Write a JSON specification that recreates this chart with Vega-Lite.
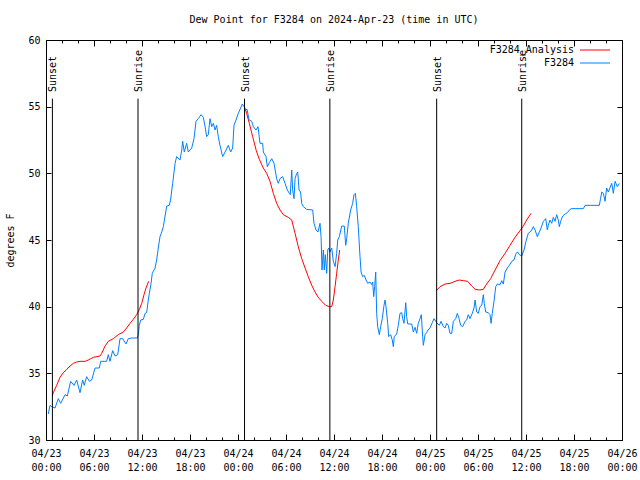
{
  "$schema": "https://vega.github.io/schema/vega-lite/v6.json",
  "width": 576,
  "height": 400,
  "autosize": {"type": "none"},
  "padding": {"left": 46, "top": 40, "right": 18, "bottom": 40},
  "background": "white",
  "title": {"text": "Dew Point for F3284 on 2024-Apr-23 (time in UTC)", "font": "DejaVu Sans Mono", "fontSize": 10, "fontWeight": "normal", "color": "black", "offset": 10, "anchor": "middle"},
  "config": {
    "view": {"stroke": "black", "strokeWidth": 1},
    "font": "DejaVu Sans Mono",
    "axis": {"domain": false, "grid": false, "tickColor": "black", "tickWidth": 1, "labelColor": "black", "labelFont": "DejaVu Sans Mono", "labelFontSize": 10, "titleFont": "DejaVu Sans Mono", "titleFontSize": 10, "titleFontWeight": "normal", "titleColor": "black"}
  },
  "datasets": {
    "sun": [
      {"t": "2024-04-23T00:48:00Z", "event": "Sunset"},
      {"t": "2024-04-23T11:30:00Z", "event": "Sunrise"},
      {"t": "2024-04-24T00:49:00Z", "event": "Sunset"},
      {"t": "2024-04-24T11:29:00Z", "event": "Sunrise"},
      {"t": "2024-04-25T00:50:00Z", "event": "Sunset"},
      {"t": "2024-04-25T11:28:00Z", "event": "Sunrise"}
    ],
    "ana": [
      {"t":"2024-04-23T00:47:00Z","v":33.3,"s":"F3284_Analysis","g":"a1"},
      {"t":"2024-04-23T00:55:00Z","v":33.55,"s":"F3284_Analysis","g":"a1"},
      {"t":"2024-04-23T01:20:00Z","v":34.1,"s":"F3284_Analysis","g":"a1"},
      {"t":"2024-04-23T01:45:00Z","v":34.7,"s":"F3284_Analysis","g":"a1"},
      {"t":"2024-04-23T02:10:00Z","v":35.05,"s":"F3284_Analysis","g":"a1"},
      {"t":"2024-04-23T02:35:00Z","v":35.3,"s":"F3284_Analysis","g":"a1"},
      {"t":"2024-04-23T03:00:00Z","v":35.55,"s":"F3284_Analysis","g":"a1"},
      {"t":"2024-04-23T03:25:00Z","v":35.75,"s":"F3284_Analysis","g":"a1"},
      {"t":"2024-04-23T03:50:00Z","v":35.85,"s":"F3284_Analysis","g":"a1"},
      {"t":"2024-04-23T04:15:00Z","v":35.9,"s":"F3284_Analysis","g":"a1"},
      {"t":"2024-04-23T04:53:00Z","v":35.9,"s":"F3284_Analysis","g":"a1"},
      {"t":"2024-04-23T05:17:00Z","v":36.0,"s":"F3284_Analysis","g":"a1"},
      {"t":"2024-04-23T05:55:00Z","v":36.2,"s":"F3284_Analysis","g":"a1"},
      {"t":"2024-04-23T06:45:00Z","v":36.3,"s":"F3284_Analysis","g":"a1"},
      {"t":"2024-04-23T06:58:00Z","v":36.5,"s":"F3284_Analysis","g":"a1"},
      {"t":"2024-04-23T07:23:00Z","v":37.05,"s":"F3284_Analysis","g":"a1"},
      {"t":"2024-04-23T07:47:00Z","v":37.4,"s":"F3284_Analysis","g":"a1"},
      {"t":"2024-04-23T08:25:00Z","v":37.6,"s":"F3284_Analysis","g":"a1"},
      {"t":"2024-04-23T09:02:00Z","v":37.9,"s":"F3284_Analysis","g":"a1"},
      {"t":"2024-04-23T09:40:00Z","v":38.1,"s":"F3284_Analysis","g":"a1"},
      {"t":"2024-04-23T10:05:00Z","v":38.4,"s":"F3284_Analysis","g":"a1"},
      {"t":"2024-04-23T10:30:00Z","v":38.75,"s":"F3284_Analysis","g":"a1"},
      {"t":"2024-04-23T10:55:00Z","v":39.05,"s":"F3284_Analysis","g":"a1"},
      {"t":"2024-04-23T11:20:00Z","v":39.4,"s":"F3284_Analysis","g":"a1"},
      {"t":"2024-04-23T11:38:00Z","v":39.75,"s":"F3284_Analysis","g":"a1"},
      {"t":"2024-04-23T11:58:00Z","v":40.25,"s":"F3284_Analysis","g":"a1"},
      {"t":"2024-04-23T12:15:00Z","v":40.9,"s":"F3284_Analysis","g":"a1"},
      {"t":"2024-04-23T12:30:00Z","v":41.4,"s":"F3284_Analysis","g":"a1"},
      {"t":"2024-04-23T12:50:00Z","v":41.9,"s":"F3284_Analysis","g":"a1"},
      {"t":"2024-04-24T00:47:00Z","v":55.0,"s":"F3284_Analysis","g":"a2"},
      {"t":"2024-04-24T01:05:00Z","v":54.5,"s":"F3284_Analysis","g":"a2"},
      {"t":"2024-04-24T01:25:00Z","v":53.75,"s":"F3284_Analysis","g":"a2"},
      {"t":"2024-04-24T01:50:00Z","v":52.75,"s":"F3284_Analysis","g":"a2"},
      {"t":"2024-04-24T02:17:00Z","v":51.7,"s":"F3284_Analysis","g":"a2"},
      {"t":"2024-04-24T02:40:00Z","v":51.05,"s":"F3284_Analysis","g":"a2"},
      {"t":"2024-04-24T03:10:00Z","v":50.4,"s":"F3284_Analysis","g":"a2"},
      {"t":"2024-04-24T03:35:00Z","v":50.0,"s":"F3284_Analysis","g":"a2"},
      {"t":"2024-04-24T04:00:00Z","v":49.4,"s":"F3284_Analysis","g":"a2"},
      {"t":"2024-04-24T04:25:00Z","v":48.5,"s":"F3284_Analysis","g":"a2"},
      {"t":"2024-04-24T04:50:00Z","v":47.75,"s":"F3284_Analysis","g":"a2"},
      {"t":"2024-04-24T05:15:00Z","v":47.25,"s":"F3284_Analysis","g":"a2"},
      {"t":"2024-04-24T05:40:00Z","v":46.9,"s":"F3284_Analysis","g":"a2"},
      {"t":"2024-04-24T06:17:00Z","v":46.7,"s":"F3284_Analysis","g":"a2"},
      {"t":"2024-04-24T06:43:00Z","v":46.5,"s":"F3284_Analysis","g":"a2"},
      {"t":"2024-04-24T07:08:00Z","v":45.5,"s":"F3284_Analysis","g":"a2"},
      {"t":"2024-04-24T07:32:00Z","v":44.5,"s":"F3284_Analysis","g":"a2"},
      {"t":"2024-04-24T07:58:00Z","v":43.6,"s":"F3284_Analysis","g":"a2"},
      {"t":"2024-04-24T08:23:00Z","v":42.9,"s":"F3284_Analysis","g":"a2"},
      {"t":"2024-04-24T08:47:00Z","v":42.25,"s":"F3284_Analysis","g":"a2"},
      {"t":"2024-04-24T09:13:00Z","v":41.6,"s":"F3284_Analysis","g":"a2"},
      {"t":"2024-04-24T09:38:00Z","v":41.1,"s":"F3284_Analysis","g":"a2"},
      {"t":"2024-04-24T10:02:00Z","v":40.7,"s":"F3284_Analysis","g":"a2"},
      {"t":"2024-04-24T10:28:00Z","v":40.4,"s":"F3284_Analysis","g":"a2"},
      {"t":"2024-04-24T10:58:00Z","v":40.1,"s":"F3284_Analysis","g":"a2"},
      {"t":"2024-04-24T11:25:00Z","v":40.0,"s":"F3284_Analysis","g":"a2"},
      {"t":"2024-04-24T11:43:00Z","v":40.0,"s":"F3284_Analysis","g":"a2"},
      {"t":"2024-04-24T11:55:00Z","v":40.5,"s":"F3284_Analysis","g":"a2"},
      {"t":"2024-04-24T12:08:00Z","v":41.5,"s":"F3284_Analysis","g":"a2"},
      {"t":"2024-04-24T12:20:00Z","v":42.5,"s":"F3284_Analysis","g":"a2"},
      {"t":"2024-04-24T12:32:00Z","v":43.5,"s":"F3284_Analysis","g":"a2"},
      {"t":"2024-04-24T12:43:00Z","v":44.25,"s":"F3284_Analysis","g":"a2"},
      {"t":"2024-04-25T00:48:00Z","v":41.2,"s":"F3284_Analysis","g":"a3"},
      {"t":"2024-04-25T01:15:00Z","v":41.5,"s":"F3284_Analysis","g":"a3"},
      {"t":"2024-04-25T01:53:00Z","v":41.7,"s":"F3284_Analysis","g":"a3"},
      {"t":"2024-04-25T02:30:00Z","v":41.75,"s":"F3284_Analysis","g":"a3"},
      {"t":"2024-04-25T03:08:00Z","v":41.9,"s":"F3284_Analysis","g":"a3"},
      {"t":"2024-04-25T03:40:00Z","v":42.0,"s":"F3284_Analysis","g":"a3"},
      {"t":"2024-04-25T04:10:00Z","v":41.95,"s":"F3284_Analysis","g":"a3"},
      {"t":"2024-04-25T04:43:00Z","v":41.9,"s":"F3284_Analysis","g":"a3"},
      {"t":"2024-04-25T05:13:00Z","v":41.55,"s":"F3284_Analysis","g":"a3"},
      {"t":"2024-04-25T05:38:00Z","v":41.3,"s":"F3284_Analysis","g":"a3"},
      {"t":"2024-04-25T06:10:00Z","v":41.25,"s":"F3284_Analysis","g":"a3"},
      {"t":"2024-04-25T06:40:00Z","v":41.3,"s":"F3284_Analysis","g":"a3"},
      {"t":"2024-04-25T07:05:00Z","v":41.7,"s":"F3284_Analysis","g":"a3"},
      {"t":"2024-04-25T07:35:00Z","v":42.1,"s":"F3284_Analysis","g":"a3"},
      {"t":"2024-04-25T08:08:00Z","v":42.75,"s":"F3284_Analysis","g":"a3"},
      {"t":"2024-04-25T08:45:00Z","v":43.45,"s":"F3284_Analysis","g":"a3"},
      {"t":"2024-04-25T09:23:00Z","v":44.0,"s":"F3284_Analysis","g":"a3"},
      {"t":"2024-04-25T10:00:00Z","v":44.6,"s":"F3284_Analysis","g":"a3"},
      {"t":"2024-04-25T10:38:00Z","v":45.2,"s":"F3284_Analysis","g":"a3"},
      {"t":"2024-04-25T11:15:00Z","v":45.7,"s":"F3284_Analysis","g":"a3"},
      {"t":"2024-04-25T11:40:00Z","v":46.05,"s":"F3284_Analysis","g":"a3"},
      {"t":"2024-04-25T12:05:00Z","v":46.5,"s":"F3284_Analysis","g":"a3"},
      {"t":"2024-04-25T12:38:00Z","v":47.0,"s":"F3284_Analysis","g":"a3"}
    ],
    "obs": [
      {"t":"2024-04-23T00:17:00Z","v":31.95,"s":"F3284"},
      {"t":"2024-04-23T00:30:00Z","v":32.6,"s":"F3284"},
      {"t":"2024-04-23T00:43:00Z","v":32.5,"s":"F3284"},
      {"t":"2024-04-23T01:08:00Z","v":32.4,"s":"F3284"},
      {"t":"2024-04-23T01:32:00Z","v":33.1,"s":"F3284"},
      {"t":"2024-04-23T01:50:00Z","v":32.75,"s":"F3284"},
      {"t":"2024-04-23T02:23:00Z","v":33.4,"s":"F3284"},
      {"t":"2024-04-23T02:40:00Z","v":33.3,"s":"F3284"},
      {"t":"2024-04-23T03:05:00Z","v":34.4,"s":"F3284"},
      {"t":"2024-04-23T03:30:00Z","v":34.1,"s":"F3284"},
      {"t":"2024-04-23T03:50:00Z","v":34.5,"s":"F3284"},
      {"t":"2024-04-23T04:15:00Z","v":33.55,"s":"F3284"},
      {"t":"2024-04-23T04:35:00Z","v":34.5,"s":"F3284"},
      {"t":"2024-04-23T04:47:00Z","v":34.1,"s":"F3284"},
      {"t":"2024-04-23T05:05:00Z","v":34.75,"s":"F3284"},
      {"t":"2024-04-23T05:25:00Z","v":34.4,"s":"F3284"},
      {"t":"2024-04-23T05:43:00Z","v":34.5,"s":"F3284"},
      {"t":"2024-04-23T06:08:00Z","v":35.4,"s":"F3284"},
      {"t":"2024-04-23T06:40:00Z","v":35.4,"s":"F3284"},
      {"t":"2024-04-23T06:50:00Z","v":35.9,"s":"F3284"},
      {"t":"2024-04-23T07:35:00Z","v":35.9,"s":"F3284"},
      {"t":"2024-04-23T07:47:00Z","v":36.4,"s":"F3284"},
      {"t":"2024-04-23T08:00:00Z","v":35.9,"s":"F3284"},
      {"t":"2024-04-23T08:20:00Z","v":36.7,"s":"F3284"},
      {"t":"2024-04-23T08:38:00Z","v":36.3,"s":"F3284"},
      {"t":"2024-04-23T08:58:00Z","v":36.4,"s":"F3284"},
      {"t":"2024-04-23T09:15:00Z","v":37.6,"s":"F3284"},
      {"t":"2024-04-23T09:35:00Z","v":37.6,"s":"F3284"},
      {"t":"2024-04-23T10:00:00Z","v":37.2,"s":"F3284"},
      {"t":"2024-04-23T10:17:00Z","v":37.6,"s":"F3284"},
      {"t":"2024-04-23T10:43:00Z","v":37.65,"s":"F3284"},
      {"t":"2024-04-23T11:25:00Z","v":37.65,"s":"F3284"},
      {"t":"2024-04-23T11:32:00Z","v":37.9,"s":"F3284"},
      {"t":"2024-04-23T11:40:00Z","v":38.6,"s":"F3284"},
      {"t":"2024-04-23T11:50:00Z","v":39.0,"s":"F3284"},
      {"t":"2024-04-23T12:10:00Z","v":39.05,"s":"F3284"},
      {"t":"2024-04-23T12:23:00Z","v":39.5,"s":"F3284"},
      {"t":"2024-04-23T12:35:00Z","v":39.55,"s":"F3284"},
      {"t":"2024-04-23T12:47:00Z","v":40.5,"s":"F3284"},
      {"t":"2024-04-23T12:55:00Z","v":41.0,"s":"F3284"},
      {"t":"2024-04-23T13:08:00Z","v":41.75,"s":"F3284"},
      {"t":"2024-04-23T13:17:00Z","v":42.5,"s":"F3284"},
      {"t":"2024-04-23T13:38:00Z","v":42.9,"s":"F3284"},
      {"t":"2024-04-23T13:50:00Z","v":43.5,"s":"F3284"},
      {"t":"2024-04-23T14:02:00Z","v":44.4,"s":"F3284"},
      {"t":"2024-04-23T14:15:00Z","v":45.25,"s":"F3284"},
      {"t":"2024-04-23T14:28:00Z","v":45.6,"s":"F3284"},
      {"t":"2024-04-23T14:40:00Z","v":46.0,"s":"F3284"},
      {"t":"2024-04-23T14:58:00Z","v":47.1,"s":"F3284"},
      {"t":"2024-04-23T15:05:00Z","v":47.55,"s":"F3284"},
      {"t":"2024-04-23T15:25:00Z","v":47.6,"s":"F3284"},
      {"t":"2024-04-23T15:34:00Z","v":48.0,"s":"F3284"},
      {"t":"2024-04-23T15:50:00Z","v":49.25,"s":"F3284"},
      {"t":"2024-04-23T16:08:00Z","v":50.75,"s":"F3284"},
      {"t":"2024-04-23T16:20:00Z","v":51.25,"s":"F3284"},
      {"t":"2024-04-23T16:45:00Z","v":51.0,"s":"F3284"},
      {"t":"2024-04-23T16:58:00Z","v":51.75,"s":"F3284"},
      {"t":"2024-04-23T17:05:00Z","v":52.4,"s":"F3284"},
      {"t":"2024-04-23T17:17:00Z","v":51.6,"s":"F3284"},
      {"t":"2024-04-23T17:35:00Z","v":52.25,"s":"F3284"},
      {"t":"2024-04-23T17:47:00Z","v":51.6,"s":"F3284"},
      {"t":"2024-04-23T18:13:00Z","v":51.9,"s":"F3284"},
      {"t":"2024-04-23T18:30:00Z","v":52.6,"s":"F3284"},
      {"t":"2024-04-23T18:45:00Z","v":53.9,"s":"F3284"},
      {"t":"2024-04-23T19:02:00Z","v":54.1,"s":"F3284"},
      {"t":"2024-04-23T19:23:00Z","v":54.4,"s":"F3284"},
      {"t":"2024-04-23T19:40:00Z","v":54.2,"s":"F3284"},
      {"t":"2024-04-23T19:53:00Z","v":53.5,"s":"F3284"},
      {"t":"2024-04-23T20:05:00Z","v":52.75,"s":"F3284"},
      {"t":"2024-04-23T20:17:00Z","v":52.9,"s":"F3284"},
      {"t":"2024-04-23T20:30:00Z","v":54.1,"s":"F3284"},
      {"t":"2024-04-23T20:43:00Z","v":53.5,"s":"F3284"},
      {"t":"2024-04-23T20:55:00Z","v":53.75,"s":"F3284"},
      {"t":"2024-04-23T21:08:00Z","v":53.25,"s":"F3284"},
      {"t":"2024-04-23T21:20:00Z","v":53.6,"s":"F3284"},
      {"t":"2024-04-23T21:32:00Z","v":52.75,"s":"F3284"},
      {"t":"2024-04-23T21:45:00Z","v":52.1,"s":"F3284"},
      {"t":"2024-04-23T22:05:00Z","v":51.25,"s":"F3284"},
      {"t":"2024-04-23T22:23:00Z","v":51.6,"s":"F3284"},
      {"t":"2024-04-23T22:47:00Z","v":52.1,"s":"F3284"},
      {"t":"2024-04-23T23:05:00Z","v":51.6,"s":"F3284"},
      {"t":"2024-04-23T23:20:00Z","v":51.9,"s":"F3284"},
      {"t":"2024-04-23T23:30:00Z","v":53.6,"s":"F3284"},
      {"t":"2024-04-23T23:45:00Z","v":54.0,"s":"F3284"},
      {"t":"2024-04-24T00:02:00Z","v":54.5,"s":"F3284"},
      {"t":"2024-04-24T00:20:00Z","v":54.9,"s":"F3284"},
      {"t":"2024-04-24T00:32:00Z","v":55.2,"s":"F3284"},
      {"t":"2024-04-24T00:45:00Z","v":55.0,"s":"F3284"},
      {"t":"2024-04-24T00:58:00Z","v":54.75,"s":"F3284"},
      {"t":"2024-04-24T01:08:00Z","v":54.8,"s":"F3284"},
      {"t":"2024-04-24T01:23:00Z","v":54.0,"s":"F3284"},
      {"t":"2024-04-24T01:43:00Z","v":53.9,"s":"F3284"},
      {"t":"2024-04-24T01:55:00Z","v":53.5,"s":"F3284"},
      {"t":"2024-04-24T02:15:00Z","v":53.25,"s":"F3284"},
      {"t":"2024-04-24T02:30:00Z","v":53.5,"s":"F3284"},
      {"t":"2024-04-24T02:45:00Z","v":52.25,"s":"F3284"},
      {"t":"2024-04-24T03:05:00Z","v":52.25,"s":"F3284"},
      {"t":"2024-04-24T03:10:00Z","v":51.6,"s":"F3284"},
      {"t":"2024-04-24T03:30:00Z","v":51.25,"s":"F3284"},
      {"t":"2024-04-24T03:40:00Z","v":50.5,"s":"F3284"},
      {"t":"2024-04-24T03:55:00Z","v":50.8,"s":"F3284"},
      {"t":"2024-04-24T04:13:00Z","v":51.1,"s":"F3284"},
      {"t":"2024-04-24T04:30:00Z","v":50.75,"s":"F3284"},
      {"t":"2024-04-24T04:50:00Z","v":49.6,"s":"F3284"},
      {"t":"2024-04-24T05:02:00Z","v":49.25,"s":"F3284"},
      {"t":"2024-04-24T05:15:00Z","v":49.6,"s":"F3284"},
      {"t":"2024-04-24T05:35:00Z","v":49.75,"s":"F3284"},
      {"t":"2024-04-24T05:53:00Z","v":49.25,"s":"F3284"},
      {"t":"2024-04-24T06:10:00Z","v":48.75,"s":"F3284"},
      {"t":"2024-04-24T06:25:00Z","v":48.5,"s":"F3284"},
      {"t":"2024-04-24T06:32:00Z","v":48.4,"s":"F3284"},
      {"t":"2024-04-24T06:43:00Z","v":50.25,"s":"F3284"},
      {"t":"2024-04-24T06:50:00Z","v":48.75,"s":"F3284"},
      {"t":"2024-04-24T07:00:00Z","v":48.1,"s":"F3284"},
      {"t":"2024-04-24T07:08:00Z","v":49.6,"s":"F3284"},
      {"t":"2024-04-24T07:20:00Z","v":50.0,"s":"F3284"},
      {"t":"2024-04-24T07:28:00Z","v":50.1,"s":"F3284"},
      {"t":"2024-04-24T07:38:00Z","v":48.75,"s":"F3284"},
      {"t":"2024-04-24T07:49:00Z","v":48.6,"s":"F3284"},
      {"t":"2024-04-24T07:58:00Z","v":47.75,"s":"F3284"},
      {"t":"2024-04-24T08:10:00Z","v":47.5,"s":"F3284"},
      {"t":"2024-04-24T08:35:00Z","v":47.3,"s":"F3284"},
      {"t":"2024-04-24T09:20:00Z","v":47.25,"s":"F3284"},
      {"t":"2024-04-24T09:30:00Z","v":46.25,"s":"F3284"},
      {"t":"2024-04-24T09:45:00Z","v":45.75,"s":"F3284"},
      {"t":"2024-04-24T10:00:00Z","v":45.6,"s":"F3284"},
      {"t":"2024-04-24T10:15:00Z","v":46.25,"s":"F3284"},
      {"t":"2024-04-24T10:23:00Z","v":45.25,"s":"F3284"},
      {"t":"2024-04-24T10:30:00Z","v":42.75,"s":"F3284"},
      {"t":"2024-04-24T10:40:00Z","v":44.25,"s":"F3284"},
      {"t":"2024-04-24T10:47:00Z","v":42.75,"s":"F3284"},
      {"t":"2024-04-24T10:55:00Z","v":43.9,"s":"F3284"},
      {"t":"2024-04-24T11:05:00Z","v":42.5,"s":"F3284"},
      {"t":"2024-04-24T11:13:00Z","v":44.25,"s":"F3284"},
      {"t":"2024-04-24T11:20:00Z","v":44.4,"s":"F3284"},
      {"t":"2024-04-24T11:30:00Z","v":44.1,"s":"F3284"},
      {"t":"2024-04-24T11:43:00Z","v":44.4,"s":"F3284"},
      {"t":"2024-04-24T11:55:00Z","v":43.4,"s":"F3284"},
      {"t":"2024-04-24T12:08:00Z","v":43.0,"s":"F3284"},
      {"t":"2024-04-24T12:20:00Z","v":44.0,"s":"F3284"},
      {"t":"2024-04-24T12:28:00Z","v":45.0,"s":"F3284"},
      {"t":"2024-04-24T12:40:00Z","v":45.25,"s":"F3284"},
      {"t":"2024-04-24T12:58:00Z","v":46.05,"s":"F3284"},
      {"t":"2024-04-24T13:17:00Z","v":46.05,"s":"F3284"},
      {"t":"2024-04-24T13:28:00Z","v":44.6,"s":"F3284"},
      {"t":"2024-04-24T13:35:00Z","v":45.1,"s":"F3284"},
      {"t":"2024-04-24T13:47:00Z","v":46.25,"s":"F3284"},
      {"t":"2024-04-24T14:05:00Z","v":47.25,"s":"F3284"},
      {"t":"2024-04-24T14:20:00Z","v":47.75,"s":"F3284"},
      {"t":"2024-04-24T14:30:00Z","v":48.4,"s":"F3284"},
      {"t":"2024-04-24T14:40:00Z","v":48.5,"s":"F3284"},
      {"t":"2024-04-24T14:50:00Z","v":47.5,"s":"F3284"},
      {"t":"2024-04-24T15:02:00Z","v":46.0,"s":"F3284"},
      {"t":"2024-04-24T15:15:00Z","v":43.75,"s":"F3284"},
      {"t":"2024-04-24T15:23:00Z","v":42.6,"s":"F3284"},
      {"t":"2024-04-24T15:35:00Z","v":42.25,"s":"F3284"},
      {"t":"2024-04-24T15:47:00Z","v":42.35,"s":"F3284"},
      {"t":"2024-04-24T16:00:00Z","v":42.0,"s":"F3284"},
      {"t":"2024-04-24T16:13:00Z","v":41.75,"s":"F3284"},
      {"t":"2024-04-24T16:30:00Z","v":41.85,"s":"F3284"},
      {"t":"2024-04-24T16:43:00Z","v":41.65,"s":"F3284"},
      {"t":"2024-04-24T16:50:00Z","v":41.85,"s":"F3284"},
      {"t":"2024-04-24T16:58:00Z","v":40.75,"s":"F3284"},
      {"t":"2024-04-24T17:05:00Z","v":41.5,"s":"F3284"},
      {"t":"2024-04-24T17:13:00Z","v":42.6,"s":"F3284"},
      {"t":"2024-04-24T17:20:00Z","v":39.5,"s":"F3284"},
      {"t":"2024-04-24T17:28:00Z","v":38.5,"s":"F3284"},
      {"t":"2024-04-24T17:40:00Z","v":37.9,"s":"F3284"},
      {"t":"2024-04-24T17:50:00Z","v":38.5,"s":"F3284"},
      {"t":"2024-04-24T18:02:00Z","v":39.1,"s":"F3284"},
      {"t":"2024-04-24T18:15:00Z","v":40.1,"s":"F3284"},
      {"t":"2024-04-24T18:23:00Z","v":40.5,"s":"F3284"},
      {"t":"2024-04-24T18:30:00Z","v":40.0,"s":"F3284"},
      {"t":"2024-04-24T18:43:00Z","v":38.75,"s":"F3284"},
      {"t":"2024-04-24T18:50:00Z","v":37.75,"s":"F3284"},
      {"t":"2024-04-24T19:05:00Z","v":37.9,"s":"F3284"},
      {"t":"2024-04-24T19:17:00Z","v":37.5,"s":"F3284"},
      {"t":"2024-04-24T19:25:00Z","v":37.0,"s":"F3284"},
      {"t":"2024-04-24T19:32:00Z","v":37.75,"s":"F3284"},
      {"t":"2024-04-24T19:50:00Z","v":37.95,"s":"F3284"},
      {"t":"2024-04-24T20:02:00Z","v":38.6,"s":"F3284"},
      {"t":"2024-04-24T20:15:00Z","v":39.5,"s":"F3284"},
      {"t":"2024-04-24T20:28:00Z","v":39.55,"s":"F3284"},
      {"t":"2024-04-24T20:35:00Z","v":39.1,"s":"F3284"},
      {"t":"2024-04-24T20:45:00Z","v":38.75,"s":"F3284"},
      {"t":"2024-04-24T20:58:00Z","v":40.3,"s":"F3284"},
      {"t":"2024-04-24T21:05:00Z","v":39.25,"s":"F3284"},
      {"t":"2024-04-24T21:13:00Z","v":38.7,"s":"F3284"},
      {"t":"2024-04-24T21:43:00Z","v":38.7,"s":"F3284"},
      {"t":"2024-04-24T21:55:00Z","v":38.1,"s":"F3284"},
      {"t":"2024-04-24T22:08:00Z","v":38.45,"s":"F3284"},
      {"t":"2024-04-24T22:20:00Z","v":38.0,"s":"F3284"},
      {"t":"2024-04-24T22:32:00Z","v":38.75,"s":"F3284"},
      {"t":"2024-04-24T22:45:00Z","v":39.1,"s":"F3284"},
      {"t":"2024-04-24T22:55:00Z","v":39.4,"s":"F3284"},
      {"t":"2024-04-24T23:05:00Z","v":37.75,"s":"F3284"},
      {"t":"2024-04-24T23:10:00Z","v":37.1,"s":"F3284"},
      {"t":"2024-04-24T23:23:00Z","v":37.9,"s":"F3284"},
      {"t":"2024-04-24T23:35:00Z","v":38.05,"s":"F3284"},
      {"t":"2024-04-24T23:45:00Z","v":38.25,"s":"F3284"},
      {"t":"2024-04-25T00:00:00Z","v":38.4,"s":"F3284"},
      {"t":"2024-04-25T00:17:00Z","v":38.8,"s":"F3284"},
      {"t":"2024-04-25T00:30:00Z","v":39.1,"s":"F3284"},
      {"t":"2024-04-25T00:50:00Z","v":38.8,"s":"F3284"},
      {"t":"2024-04-25T01:10:00Z","v":38.6,"s":"F3284"},
      {"t":"2024-04-25T01:23:00Z","v":38.9,"s":"F3284"},
      {"t":"2024-04-25T01:40:00Z","v":38.5,"s":"F3284"},
      {"t":"2024-04-25T01:53:00Z","v":38.4,"s":"F3284"},
      {"t":"2024-04-25T02:05:00Z","v":38.75,"s":"F3284"},
      {"t":"2024-04-25T02:17:00Z","v":38.6,"s":"F3284"},
      {"t":"2024-04-25T02:30:00Z","v":38.0,"s":"F3284"},
      {"t":"2024-04-25T02:43:00Z","v":38.0,"s":"F3284"},
      {"t":"2024-04-25T02:55:00Z","v":38.9,"s":"F3284"},
      {"t":"2024-04-25T03:13:00Z","v":39.1,"s":"F3284"},
      {"t":"2024-04-25T03:25:00Z","v":39.5,"s":"F3284"},
      {"t":"2024-04-25T03:38:00Z","v":39.1,"s":"F3284"},
      {"t":"2024-04-25T03:50:00Z","v":38.6,"s":"F3284"},
      {"t":"2024-04-25T04:05:00Z","v":38.5,"s":"F3284"},
      {"t":"2024-04-25T04:23:00Z","v":38.9,"s":"F3284"},
      {"t":"2024-04-25T04:35:00Z","v":39.0,"s":"F3284"},
      {"t":"2024-04-25T04:47:00Z","v":39.4,"s":"F3284"},
      {"t":"2024-04-25T05:00:00Z","v":39.1,"s":"F3284"},
      {"t":"2024-04-25T05:17:00Z","v":39.5,"s":"F3284"},
      {"t":"2024-04-25T05:30:00Z","v":39.9,"s":"F3284"},
      {"t":"2024-04-25T05:38:00Z","v":40.5,"s":"F3284"},
      {"t":"2024-04-25T05:50:00Z","v":39.6,"s":"F3284"},
      {"t":"2024-04-25T06:02:00Z","v":39.5,"s":"F3284"},
      {"t":"2024-04-25T06:15:00Z","v":40.0,"s":"F3284"},
      {"t":"2024-04-25T06:28:00Z","v":40.1,"s":"F3284"},
      {"t":"2024-04-25T06:40:00Z","v":40.9,"s":"F3284"},
      {"t":"2024-04-25T06:47:00Z","v":40.25,"s":"F3284"},
      {"t":"2024-04-25T06:58:00Z","v":39.6,"s":"F3284"},
      {"t":"2024-04-25T07:17:00Z","v":39.55,"s":"F3284"},
      {"t":"2024-04-25T07:30:00Z","v":39.4,"s":"F3284"},
      {"t":"2024-04-25T07:38:00Z","v":38.75,"s":"F3284"},
      {"t":"2024-04-25T07:47:00Z","v":39.5,"s":"F3284"},
      {"t":"2024-04-25T08:00:00Z","v":40.4,"s":"F3284"},
      {"t":"2024-04-25T08:13:00Z","v":41.5,"s":"F3284"},
      {"t":"2024-04-25T08:25:00Z","v":41.7,"s":"F3284"},
      {"t":"2024-04-25T08:45:00Z","v":41.65,"s":"F3284"},
      {"t":"2024-04-25T08:58:00Z","v":41.95,"s":"F3284"},
      {"t":"2024-04-25T09:10:00Z","v":41.7,"s":"F3284"},
      {"t":"2024-04-25T09:23:00Z","v":42.6,"s":"F3284"},
      {"t":"2024-04-25T09:40:00Z","v":42.9,"s":"F3284"},
      {"t":"2024-04-25T09:55:00Z","v":43.1,"s":"F3284"},
      {"t":"2024-04-25T10:13:00Z","v":43.4,"s":"F3284"},
      {"t":"2024-04-25T10:30:00Z","v":43.5,"s":"F3284"},
      {"t":"2024-04-25T10:45:00Z","v":44.0,"s":"F3284"},
      {"t":"2024-04-25T10:58:00Z","v":44.1,"s":"F3284"},
      {"t":"2024-04-25T11:10:00Z","v":43.9,"s":"F3284"},
      {"t":"2024-04-25T11:28:00Z","v":43.8,"s":"F3284"},
      {"t":"2024-04-25T11:45:00Z","v":44.25,"s":"F3284"},
      {"t":"2024-04-25T12:00:00Z","v":44.9,"s":"F3284"},
      {"t":"2024-04-25T12:17:00Z","v":45.5,"s":"F3284"},
      {"t":"2024-04-25T12:30:00Z","v":45.6,"s":"F3284"},
      {"t":"2024-04-25T12:43:00Z","v":45.75,"s":"F3284"},
      {"t":"2024-04-25T12:55:00Z","v":46.0,"s":"F3284"},
      {"t":"2024-04-25T13:08:00Z","v":45.75,"s":"F3284"},
      {"t":"2024-04-25T13:25:00Z","v":45.25,"s":"F3284"},
      {"t":"2024-04-25T13:40:00Z","v":45.6,"s":"F3284"},
      {"t":"2024-04-25T13:53:00Z","v":45.9,"s":"F3284"},
      {"t":"2024-04-25T14:10:00Z","v":46.4,"s":"F3284"},
      {"t":"2024-04-25T14:28:00Z","v":46.6,"s":"F3284"},
      {"t":"2024-04-25T14:40:00Z","v":45.75,"s":"F3284"},
      {"t":"2024-04-25T14:47:00Z","v":46.1,"s":"F3284"},
      {"t":"2024-04-25T15:00:00Z","v":46.5,"s":"F3284"},
      {"t":"2024-04-25T15:13:00Z","v":46.25,"s":"F3284"},
      {"t":"2024-04-25T15:25:00Z","v":46.7,"s":"F3284"},
      {"t":"2024-04-25T15:38:00Z","v":46.4,"s":"F3284"},
      {"t":"2024-04-25T15:50:00Z","v":46.9,"s":"F3284"},
      {"t":"2024-04-25T16:02:00Z","v":46.5,"s":"F3284"},
      {"t":"2024-04-25T16:10:00Z","v":46.0,"s":"F3284"},
      {"t":"2024-04-25T16:20:00Z","v":46.4,"s":"F3284"},
      {"t":"2024-04-25T16:35:00Z","v":46.8,"s":"F3284"},
      {"t":"2024-04-25T16:53:00Z","v":46.95,"s":"F3284"},
      {"t":"2024-04-25T17:10:00Z","v":47.05,"s":"F3284"},
      {"t":"2024-04-25T17:30:00Z","v":47.3,"s":"F3284"},
      {"t":"2024-04-25T17:43:00Z","v":47.35,"s":"F3284"},
      {"t":"2024-04-25T19:10:00Z","v":47.35,"s":"F3284"},
      {"t":"2024-04-25T19:23:00Z","v":47.6,"s":"F3284"},
      {"t":"2024-04-25T21:10:00Z","v":47.6,"s":"F3284"},
      {"t":"2024-04-25T21:19:00Z","v":48.1,"s":"F3284"},
      {"t":"2024-04-25T21:28:00Z","v":48.6,"s":"F3284"},
      {"t":"2024-04-25T21:40:00Z","v":48.5,"s":"F3284"},
      {"t":"2024-04-25T21:53:00Z","v":47.9,"s":"F3284"},
      {"t":"2024-04-25T22:05:00Z","v":48.9,"s":"F3284"},
      {"t":"2024-04-25T22:17:00Z","v":48.6,"s":"F3284"},
      {"t":"2024-04-25T22:43:00Z","v":49.25,"s":"F3284"},
      {"t":"2024-04-25T22:55:00Z","v":48.5,"s":"F3284"},
      {"t":"2024-04-25T23:08:00Z","v":49.4,"s":"F3284"},
      {"t":"2024-04-25T23:25:00Z","v":49.0,"s":"F3284"},
      {"t":"2024-04-25T23:40:00Z","v":49.25,"s":"F3284"}
    ]
  },
  "layer": [
    {
      "data": {"name": "ana"},
      "mark": {"type": "line", "strokeWidth": 1},
      "encoding": {
        "x": {"field": "t", "type": "temporal",
          "scale": {"domain": [1713830400000, 1714089600000]},
          "axis": {"orient": "bottom", "title": null, "tickSize": -6,
            "values": [1713830400000, 1713852000000, 1713873600000, 1713895200000, 1713916800000, 1713938400000, 1713960000000, 1713981600000, 1714003200000, 1714024800000, 1714046400000, 1714068000000, 1714089600000],
            "labelExpr": "[utcFormat(datum.value, '%m/%d'), utcFormat(datum.value, '%H:%M')]",
            "labelOverlap": false, "labelBound": false, "labelFlush": false, "labelPadding": 14, "labelLineHeight": 14}},
        "y": {"field": "v", "type": "quantitative",
          "scale": {"domain": [30, 60], "nice": false, "zero": false},
          "axis": {"orient": "left", "title": "degrees F", "values": [30, 35, 40, 45, 50, 55, 60], "tickSize": -5, "labelPadding": 11, "titlePadding": 12}},
        "color": {"field": "s", "type": "nominal",
          "scale": {"domain": ["F3284_Analysis", "F3284"], "range": ["#ff0000", "#0080ff"]},
          "legend": {"orient": "none", "legendX": 544, "legendY": 5, "title": null, "padding": 0,
            "symbolType": "M-5,0H5", "symbolSize": 36, "symbolStrokeWidth": 1,
            "labelAlign": "right", "labelOffset": -26, "labelFont": "DejaVu Sans Mono", "labelFontSize": 10, "labelColor": "black", "rowPadding": 3, "labelLimit": 300}},
        "detail": {"field": "g"}
      }
    },
    {
      "data": {"name": "obs"},
      "mark": {"type": "line", "strokeWidth": 1},
      "encoding": {
        "x": {"field": "t", "type": "temporal",
          "axis": {"orient": "bottom", "title": null, "labels": false, "tickSize": -3,
            "values": [1713830400000, 1713837600000, 1713844800000, 1713852000000, 1713859200000, 1713866400000, 1713873600000, 1713880800000, 1713888000000, 1713895200000, 1713902400000, 1713909600000, 1713916800000, 1713924000000, 1713931200000, 1713938400000, 1713945600000, 1713952800000, 1713960000000, 1713967200000, 1713974400000, 1713981600000, 1713988800000, 1713996000000, 1714003200000, 1714010400000, 1714017600000, 1714024800000, 1714032000000, 1714039200000, 1714046400000, 1714053600000, 1714060800000, 1714068000000, 1714075200000, 1714082400000, 1714089600000]}},
        "y": {"field": "v", "type": "quantitative",
          "axis": {"orient": "right", "title": null, "labels": false, "values": [30, 35, 40, 45, 50, 55, 60], "tickSize": -5}},
        "color": {"field": "s", "type": "nominal"}
      }
    },
    {
      "data": {"name": "sun"},
      "mark": {"type": "rule", "color": "black", "strokeWidth": 1},
      "encoding": {
        "x": {"field": "t", "type": "temporal",
          "axis": {"orient": "top", "title": null, "labels": false, "tickSize": -6,
            "values": [1713830400000, 1713852000000, 1713873600000, 1713895200000, 1713916800000, 1713938400000, 1713960000000, 1713981600000, 1714003200000, 1714024800000, 1714046400000, 1714068000000, 1714089600000]}},
        "y": {"datum": 55.6, "axis": null},
        "y2": {"datum": 30}
      }
    },
    {
      "data": {"name": "sun"},
      "mark": {"type": "text", "angle": 270, "align": "left", "baseline": "middle", "font": "DejaVu Sans Mono", "fontSize": 10, "color": "black", "dy": 1},
      "encoding": {
        "x": {"field": "t", "type": "temporal",
          "axis": {"orient": "top", "title": null, "labels": false, "tickSize": -3,
            "values": [1713830400000, 1713837600000, 1713844800000, 1713852000000, 1713859200000, 1713866400000, 1713873600000, 1713880800000, 1713888000000, 1713895200000, 1713902400000, 1713909600000, 1713916800000, 1713924000000, 1713931200000, 1713938400000, 1713945600000, 1713952800000, 1713960000000, 1713967200000, 1713974400000, 1713981600000, 1713988800000, 1713996000000, 1714003200000, 1714010400000, 1714017600000, 1714024800000, 1714032000000, 1714039200000, 1714046400000, 1714053600000, 1714060800000, 1714068000000, 1714075200000, 1714082400000, 1714089600000]}},
        "y": {"datum": 56.1, "axis": null},
        "text": {"field": "event"}
      }
    }
  ],
  "resolve": {"axis": {"x": "independent", "y": "independent"}}
}
